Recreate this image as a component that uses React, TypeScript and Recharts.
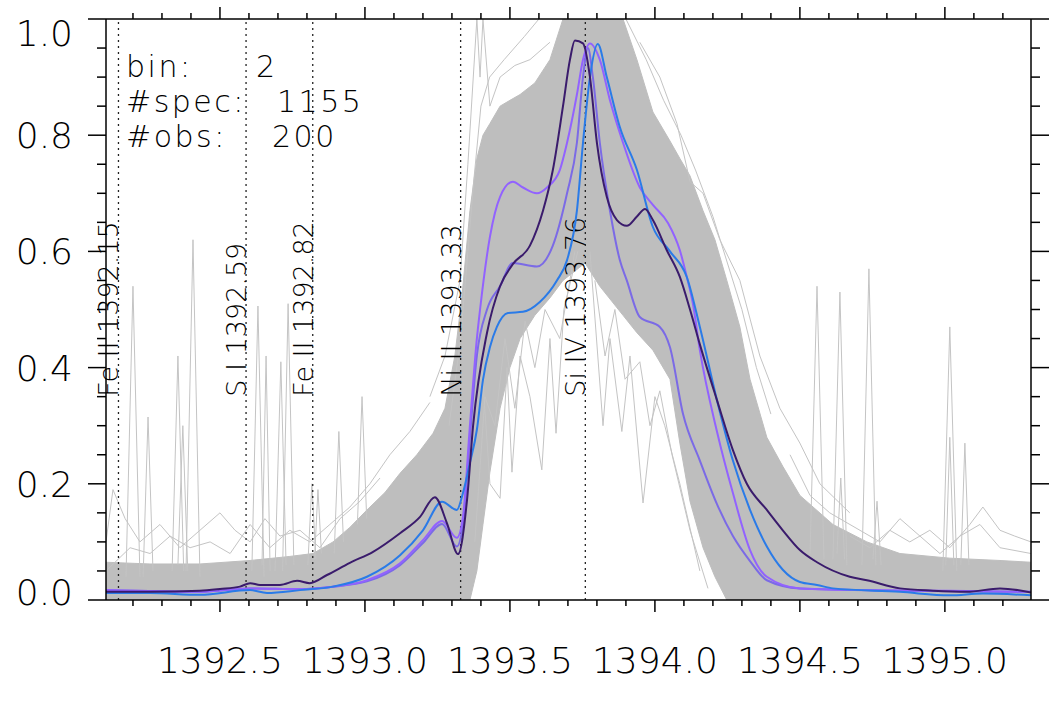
import React from "react";
import {
  ComposedChart,
  Area,
  Line,
  XAxis,
  YAxis,
  ReferenceLine,
} from "recharts";

// wavelength range and ticks (Angstrom)
const X_DOMAIN = [1392.107, 1395.297];
const X_TICKS = [
  1392.2, 1392.3, 1392.4, 1392.5, 1392.6, 1392.7, 1392.8, 1392.9, 1393.0,
  1393.1, 1393.2, 1393.3, 1393.4, 1393.5, 1393.6, 1393.7, 1393.8, 1393.9,
  1394.0, 1394.1, 1394.2, 1394.3, 1394.4, 1394.5, 1394.6, 1394.7, 1394.8,
  1394.9, 1395.0, 1395.1, 1395.2,
];
const Y_TICKS = [
  0, 0.05, 0.1, 0.15, 0.2, 0.25, 0.3, 0.35, 0.4, 0.45, 0.5, 0.55, 0.6, 0.65,
  0.7, 0.75, 0.8, 0.85, 0.9, 0.95, 1.0,
];

// rest wavelengths of the marked lines
const LINE_IDS = [
  { name: "Fe II", wl: 1392.15 },
  { name: "S I", wl: 1392.59 },
  { name: "Fe II", wl: 1392.82 },
  { name: "Ni II", wl: 1393.33 },
  { name: "Si IV", wl: 1393.76 },
];

const BIN = 2;
const N_SPEC = 1155;
const N_OBS = 200;

// dense band of all spectra: [wavelength, low, high]
const ENVELOPE = [
  [1392.107, 0, 0.065], [1392.259, 0, 0.062], [1392.431, 0, 0.062],
  [1392.604, 0, 0.068], [1392.741, 0, 0.075], [1392.821, 0, 0.08],
  [1392.89, 0, 0.1], [1392.948, 0, 0.125], [1393.007, 0, 0.155],
  [1393.069, 0, 0.185], [1393.121, 0, 0.218], [1393.179, 0, 0.25],
  [1393.235, 0, 0.287], [1393.276, 0, 0.33], [1393.31, 0, 0.42],
  [1393.334, 0, 0.52], [1393.362, 0, 0.67], [1393.386, 0.05, 0.76],
  [1393.407, 0.13, 0.8], [1393.431, 0.22, 0.82], [1393.466, 0.33, 0.85],
  [1393.5, 0.4, 0.86], [1393.535, 0.45, 0.87], [1393.586, 0.49, 0.89],
  [1393.638, 0.52, 0.93], [1393.683, 0.55, 1.0], [1393.759, 0.58, 1.0],
  [1393.81, 0.54, 1.0], [1393.89, 0.49, 1.0], [1393.938, 0.46, 0.93],
  [1393.993, 0.43, 0.84], [1394.052, 0.38, 0.79], [1394.086, 0.27, 0.76],
  [1394.121, 0.17, 0.73], [1394.166, 0.09, 0.67], [1394.207, 0.04, 0.62],
  [1394.248, 0, 0.55], [1394.293, 0, 0.47], [1394.328, 0, 0.38],
  [1394.386, 0, 0.28], [1394.441, 0, 0.23], [1394.5, 0, 0.18],
  [1394.614, 0, 0.13], [1394.731, 0, 0.1], [1394.845, 0, 0.08],
  [1395.017, 0, 0.072], [1395.19, 0, 0.068], [1395.297, 0, 0.065],
];

// a few of the individual grey spectra that stick out of the band
const STRAYS = [
  // continuum noise, left
  [[1392.107, 0.1], [1392.131, 0.19], [1392.173, 0.14], [1392.224, 0.1], [1392.293, 0.13], [1392.362, 0.09], [1392.431, 0.12], [1392.5, 0.15], [1392.552, 0.12], [1392.604, 0.1], [1392.655, 0.14], [1392.707, 0.11], [1392.776, 0.12], [1392.845, 0.09], [1392.914, 0.14], [1392.983, 0.17], [1393.052, 0.21]],
  [[1392.107, 0.05], [1392.19, 0.09], [1392.259, 0.08], [1392.328, 0.11], [1392.397, 0.09], [1392.466, 0.1], [1392.535, 0.08], [1392.604, 0.13], [1392.672, 0.09], [1392.741, 0.12], [1392.81, 0.1], [1392.879, 0.13], [1392.948, 0.16], [1393.017, 0.2], [1393.086, 0.25], [1393.155, 0.29], [1393.224, 0.34]],
  // continuum noise, right
  [[1394.672, 0.11], [1394.741, 0.09], [1394.81, 0.12], [1394.879, 0.1], [1394.948, 0.12], [1395.017, 0.09], [1395.086, 0.13], [1395.131, 0.16], [1395.19, 0.12], [1395.241, 0.11], [1395.297, 0.1]],
  [[1394.466, 0.25], [1394.535, 0.18], [1394.603, 0.15], [1394.707, 0.12], [1394.776, 0.1], [1394.845, 0.14], [1394.914, 0.11], [1394.983, 0.08], [1395.052, 0.11], [1395.121, 0.13], [1395.19, 0.09], [1395.297, 0.08]],
  // shoulders above the band
  [[1393.224, 0.35], [1393.276, 0.42], [1393.328, 0.55], [1393.355, 0.75], [1393.386, 1.0], [1393.397, 0.9], [1393.407, 1.0], [1393.431, 0.85], [1393.466, 0.9], [1393.517, 0.92], [1393.569, 0.93], [1393.638, 0.96]],
  [[1393.29, 0.3], [1393.33, 0.45], [1393.355, 0.6], [1393.375, 0.72], [1393.4, 0.85], [1393.43, 0.9], [1393.48, 0.93], [1393.55, 0.97], [1393.6, 1.0]],
  [[1393.948, 0.96], [1394.017, 0.9], [1394.076, 0.82], [1394.121, 0.72], [1394.166, 0.7], [1394.224, 0.62], [1394.293, 0.55], [1394.362, 0.42], [1394.431, 0.33], [1394.5, 0.27], [1394.569, 0.2], [1394.672, 0.15]],
  [[1393.9, 1.0], [1393.97, 0.93], [1394.03, 0.86], [1394.09, 0.8], [1394.14, 0.74], [1394.2, 0.66], [1394.25, 0.58], [1394.3, 0.5], [1394.35, 0.4], [1394.4, 0.32]],
  // low spectra under the peak
  [[1393.362, 0.3], [1393.397, 0.45], [1393.431, 0.2], [1393.466, 0.175], [1393.49, 0.4], [1393.507, 0.22], [1393.535, 0.42], [1393.569, 0.35], [1393.61, 0.224], [1393.638, 0.45], [1393.659, 0.287], [1393.686, 0.5], [1393.734, 0.6]],
  [[1393.379, 0.1], [1393.414, 0.35], [1393.448, 0.3], [1393.483, 0.45], [1393.517, 0.33], [1393.552, 0.48], [1393.586, 0.4], [1393.621, 0.5], [1393.672, 0.45], [1393.724, 0.6]],
  [[1393.776, 0.6], [1393.821, 0.3], [1393.845, 0.45], [1393.886, 0.29], [1393.914, 0.42], [1393.959, 0.167], [1394.0, 0.35], [1394.034, 0.3], [1394.086, 0.2], [1394.155, 0.05]],
  [[1393.793, 0.55], [1393.828, 0.42], [1393.862, 0.5], [1393.897, 0.38], [1393.948, 0.41], [1393.983, 0.3], [1394.017, 0.36], [1394.059, 0.25], [1394.121, 0.12], [1394.183, 0.02]],
  // spikes (cosmic rays / hot pixels)
  [[1392.176, 0.04], [1392.2, 0.54], [1392.224, 0.04]],
  [[1392.235, 0.04], [1392.252, 0.315], [1392.269, 0.05]],
  [[1392.335, 0.05], [1392.355, 0.42], [1392.375, 0.05]],
  [[1392.355, 0.06], [1392.372, 0.3], [1392.389, 0.05]],
  [[1392.383, 0.05], [1392.407, 0.62], [1392.431, 0.04]],
  [[1392.61, 0.05], [1392.631, 0.506], [1392.652, 0.04]],
  [[1392.645, 0.06], [1392.659, 0.42], [1392.673, 0.05]],
  [[1392.69, 0.05], [1392.71, 0.41], [1392.728, 0.06]],
  [[1392.716, 0.05], [1392.735, 0.51], [1392.755, 0.06]],
  [[1392.803, 0.06], [1392.817, 0.2], [1392.831, 0.07]],
  [[1392.826, 0.07], [1392.838, 0.19], [1392.85, 0.08]],
  [[1392.894, 0.08], [1392.91, 0.29], [1392.926, 0.1]],
  [[1392.974, 0.13], [1392.99, 0.35], [1393.006, 0.14]],
  [[1394.535, 0.08], [1394.559, 0.54], [1394.583, 0.07]],
  [[1394.614, 0.07], [1394.638, 0.53], [1394.662, 0.06]],
  [[1394.628, 0.08], [1394.641, 0.21], [1394.654, 0.07]],
  [[1394.714, 0.06], [1394.738, 0.57], [1394.762, 0.06]],
  [[1394.752, 0.07], [1394.766, 0.17], [1394.78, 0.06]],
  [[1394.993, 0.05], [1395.017, 0.47], [1395.041, 0.05]],
  [[1395.003, 0.06], [1395.017, 0.28], [1395.031, 0.06]],
  [[1395.055, 0.06], [1395.069, 0.27], [1395.083, 0.06]],
];

// cluster centroids
const DARK = [
  [1392.107, 0.014], [1392.259, 0.014], [1392.431, 0.016], [1392.5, 0.019], [1392.569, 0.023], [1392.604, 0.029], [1392.638, 0.026], [1392.707, 0.026], [1392.766, 0.033], [1392.81, 0.029], [1392.869, 0.043], [1392.948, 0.064], [1393.028, 0.083], [1393.121, 0.115], [1393.19, 0.143], [1393.241, 0.177], [1393.283, 0.132], [1393.321, 0.079], [1393.352, 0.172], [1393.373, 0.3], [1393.421, 0.46], [1393.466, 0.54], [1393.51, 0.578], [1393.569, 0.61], [1393.614, 0.67], [1393.648, 0.74], [1393.683, 0.85], [1393.707, 0.93], [1393.724, 0.963], [1393.752, 0.958], [1393.776, 0.9], [1393.8, 0.787], [1393.834, 0.694], [1393.869, 0.654], [1393.903, 0.644], [1393.938, 0.66], [1393.966, 0.673], [1393.993, 0.654], [1394.041, 0.602], [1394.086, 0.556], [1394.121, 0.5], [1394.155, 0.44], [1394.214, 0.344], [1394.269, 0.258], [1394.317, 0.2], [1394.386, 0.155], [1394.441, 0.12], [1394.5, 0.086], [1394.559, 0.065], [1394.672, 0.04], [1394.731, 0.034], [1394.845, 0.02], [1394.959, 0.016], [1395.076, 0.014], [1395.19, 0.02], [1395.297, 0.013],
];
const VIOLET = [
  [1392.107, 0.017], [1392.431, 0.014], [1392.604, 0.02], [1392.776, 0.019], [1392.89, 0.023], [1393.007, 0.034], [1393.121, 0.063], [1393.2, 0.103], [1393.266, 0.136], [1393.317, 0.107], [1393.338, 0.143], [1393.362, 0.3], [1393.386, 0.45], [1393.397, 0.5], [1393.431, 0.625], [1393.466, 0.694], [1393.51, 0.72], [1393.545, 0.71], [1393.593, 0.7], [1393.628, 0.71], [1393.672, 0.74], [1393.697, 0.787], [1393.731, 0.87], [1393.752, 0.93], [1393.776, 0.958], [1393.81, 0.93], [1393.845, 0.86], [1393.89, 0.787], [1393.948, 0.71], [1393.993, 0.68], [1394.045, 0.649], [1394.086, 0.602], [1394.11, 0.556], [1394.131, 0.51], [1394.155, 0.43], [1394.214, 0.29], [1394.269, 0.184], [1394.328, 0.086], [1394.386, 0.04], [1394.5, 0.02], [1394.731, 0.017], [1395.017, 0.016], [1395.297, 0.014],
];
const MEDIUM = [
  [1392.107, 0.017], [1392.431, 0.014], [1392.604, 0.02], [1392.776, 0.019], [1392.89, 0.023], [1393.007, 0.032], [1393.121, 0.06], [1393.2, 0.098], [1393.266, 0.131], [1393.317, 0.092], [1393.338, 0.13], [1393.362, 0.28], [1393.386, 0.42], [1393.421, 0.5], [1393.466, 0.54], [1393.51, 0.58], [1393.593, 0.574], [1393.648, 0.61], [1393.697, 0.7], [1393.731, 0.787], [1393.752, 0.9], [1393.769, 0.95], [1393.786, 0.9], [1393.81, 0.787], [1393.845, 0.67], [1393.879, 0.585], [1393.903, 0.55], [1393.948, 0.487], [1394.017, 0.47], [1394.052, 0.435], [1394.097, 0.32], [1394.155, 0.24], [1394.214, 0.165], [1394.269, 0.11], [1394.328, 0.067], [1394.386, 0.034], [1394.5, 0.02], [1394.845, 0.016], [1395.297, 0.014],
];
const BLUE = [
  [1392.107, 0.012], [1392.259, 0.012], [1392.431, 0.009], [1392.604, 0.017], [1392.662, 0.012], [1392.776, 0.017], [1392.89, 0.023], [1393.007, 0.04], [1393.121, 0.077], [1393.2, 0.12], [1393.266, 0.169], [1393.317, 0.155], [1393.338, 0.184], [1393.362, 0.236], [1393.386, 0.293], [1393.407, 0.379], [1393.431, 0.435], [1393.455, 0.47], [1393.493, 0.494], [1393.545, 0.496], [1393.603, 0.513], [1393.662, 0.55], [1393.697, 0.585], [1393.731, 0.67], [1393.752, 0.787], [1393.776, 0.9], [1393.803, 0.957], [1393.834, 0.9], [1393.879, 0.814], [1393.938, 0.74], [1393.993, 0.642], [1394.052, 0.6], [1394.11, 0.556], [1394.155, 0.47], [1394.214, 0.344], [1394.269, 0.24], [1394.328, 0.155], [1394.386, 0.092], [1394.441, 0.052], [1394.5, 0.031], [1394.559, 0.026], [1394.614, 0.02], [1394.845, 0.014], [1395.017, 0.008], [1395.131, 0.011], [1395.297, 0.008],
];

const FONT = '"DejaVu Sans", sans-serif';
const GRAY = "#bebebe";
const W = 1062;
const H = 707;

const toPts = (arr: number[][]) => arr.map(([x, y]) => ({ x, y }));
const envData = ENVELOPE.map(([x, lo, hi]) => ({ x, band: [lo, hi] }));

const isMajorX = (v: number) => Math.abs(v * 2 - Math.round(v * 2)) < 1e-6;
const isMajorY = (v: number) => Math.abs(v * 5 - Math.round(v * 5)) < 1e-6;

function BottomTick({ x, y, payload }: any) {
  const major = isMajorX(payload.value);
  return (
    <g>
      <line x1={x} y1={y} x2={x} y2={y + (major ? 12 : 6)} stroke="#000" strokeWidth={1.5} />
      {major && (
        <text x={x} y={y + 73} textAnchor="middle" fontFamily={FONT} fontSize={36} fontWeight={300} fill="#000">
          {payload.value.toFixed(1)}
        </text>
      )}
    </g>
  );
}

function TopTick({ x, y, payload }: any) {
  const major = isMajorX(payload.value);
  return <line x1={x} y1={y} x2={x} y2={y - (major ? 12 : 6)} stroke="#000" strokeWidth={1.5} />;
}

function LeftTick({ x, y, payload }: any) {
  const v = payload.value;
  const major = isMajorY(v);
  // IDL nudges the end labels inside the axis range
  const dy = v >= 1 ? 27 : v <= 0 ? 5 : 13;
  return (
    <g>
      <line x1={x - (major ? 18 : 9)} y1={y} x2={x} y2={y} stroke="#000" strokeWidth={1.5} />
      {major && (
        <text x={x - 33} y={y + dy} textAnchor="end" fontFamily={FONT} fontSize={36} fontWeight={300} fill="#000">
          {v.toFixed(1)}
        </text>
      )}
    </g>
  );
}

function RightTick({ x, y, payload }: any) {
  const major = isMajorY(payload.value);
  return <line x1={x} y1={y} x2={x + (major ? 18 : 9)} y2={y} stroke="#000" strokeWidth={1.5} />;
}

const idLabel = (text: string) => (props: any) => {
  const vb = props.viewBox;
  const x = vb.x;
  const y = vb.y + vb.height * 0.65;
  return (
    <text
      x={x}
      y={y}
      transform={`rotate(-90 ${x} ${y})`}
      textAnchor="start"
      fontFamily={FONT}
      fontSize={27}
      fontWeight={300}
      fill="#000"
    >
      {text}
    </text>
  );
};

export default function App() {
  const axisLine = { stroke: "#000", strokeWidth: 1.5 };
  return (
    <div style={{ position: "absolute", left: 0, top: 0, width: W, height: H, background: "#fff" }}>
      <ComposedChart width={W} height={H} margin={{ top: 0, right: 0, bottom: 0, left: 0 }}>
        <XAxis
          xAxisId="b"
          type="number"
          dataKey="x"
          domain={X_DOMAIN}
          allowDataOverflow
          ticks={X_TICKS}
          interval={0}
          height={107}
          tickSize={0}
          tickMargin={0}
          tickLine={false}
          axisLine={axisLine}
          tick={BottomTick}
        />
        <XAxis
          xAxisId="t"
          orientation="top"
          type="number"
          dataKey="x"
          domain={X_DOMAIN}
          allowDataOverflow
          ticks={X_TICKS}
          interval={0}
          height={19}
          tickSize={0}
          tickMargin={0}
          tickLine={false}
          axisLine={axisLine}
          tick={TopTick}
        />
        <YAxis
          yAxisId="l"
          type="number"
          domain={[0, 1]}
          allowDataOverflow
          ticks={Y_TICKS}
          interval={0}
          width={106}
          tickSize={0}
          tickMargin={0}
          tickLine={false}
          axisLine={axisLine}
          tick={LeftTick}
        />
        <YAxis
          yAxisId="r"
          orientation="right"
          type="number"
          domain={[0, 1]}
          allowDataOverflow
          ticks={Y_TICKS}
          interval={0}
          width={31}
          tickSize={0}
          tickMargin={0}
          tickLine={false}
          axisLine={axisLine}
          tick={RightTick}
        />

        <Area
          xAxisId="b"
          yAxisId="l"
          data={envData}
          dataKey="band"
          type="linear"
          stroke={GRAY}
          strokeWidth={1}
          fill={GRAY}
          fillOpacity={1}
          isAnimationActive={false}
          dot={false}
          activeDot={false}
        />
        {STRAYS.map((s, i) => (
          <Line
            key={"s" + i}
            xAxisId="b"
            yAxisId="l"
            data={toPts(s)}
            dataKey="y"
            type="linear"
            stroke="#c4c4c4"
            strokeWidth={1}
            dot={false}
            activeDot={false}
            isAnimationActive={false}
          />
        ))}

        {LINE_IDS.map((l) => (
          <ReferenceLine
            key={l.wl}
            xAxisId="b"
            yAxisId="l"
            x={l.wl}
            stroke="#222"
            strokeWidth={1.3}
            strokeDasharray="2 4"
            label={idLabel(`${l.name} ${l.wl.toFixed(2)}`)}
          />
        ))}

        <Line xAxisId="b" yAxisId="l" data={toPts(MEDIUM)} dataKey="y" type="monotone" stroke="#7b6ae6" strokeWidth={2} dot={false} activeDot={false} isAnimationActive={false} />
        <Line xAxisId="b" yAxisId="l" data={toPts(VIOLET)} dataKey="y" type="monotone" stroke="#9262ff" strokeWidth={2} dot={false} activeDot={false} isAnimationActive={false} />
        <Line xAxisId="b" yAxisId="l" data={toPts(BLUE)} dataKey="y" type="monotone" stroke="#2a7be8" strokeWidth={2} dot={false} activeDot={false} isAnimationActive={false} />
        <Line xAxisId="b" yAxisId="l" data={toPts(DARK)} dataKey="y" type="monotone" stroke="#3a1b6c" strokeWidth={2} dot={false} activeDot={false} isAnimationActive={false} />
      </ComposedChart>

      <svg
        width={W}
        height={H}
        style={{ position: "absolute", left: 0, top: 0, pointerEvents: "none" }}
      >
        <g fontFamily={FONT} fontSize={30} fontWeight={300} fill="#000" letterSpacing={2.5}>
          <text x={126} y={77}>bin:</text>
          <text x={256} y={77}>{BIN}</text>
          <text x={126} y={112}>#spec:</text>
          <text x={277} y={112}>{N_SPEC}</text>
          <text x={126} y={147}>#obs:</text>
          <text x={272} y={147}>{N_OBS}</text>
        </g>
      </svg>
    </div>
  );
}
